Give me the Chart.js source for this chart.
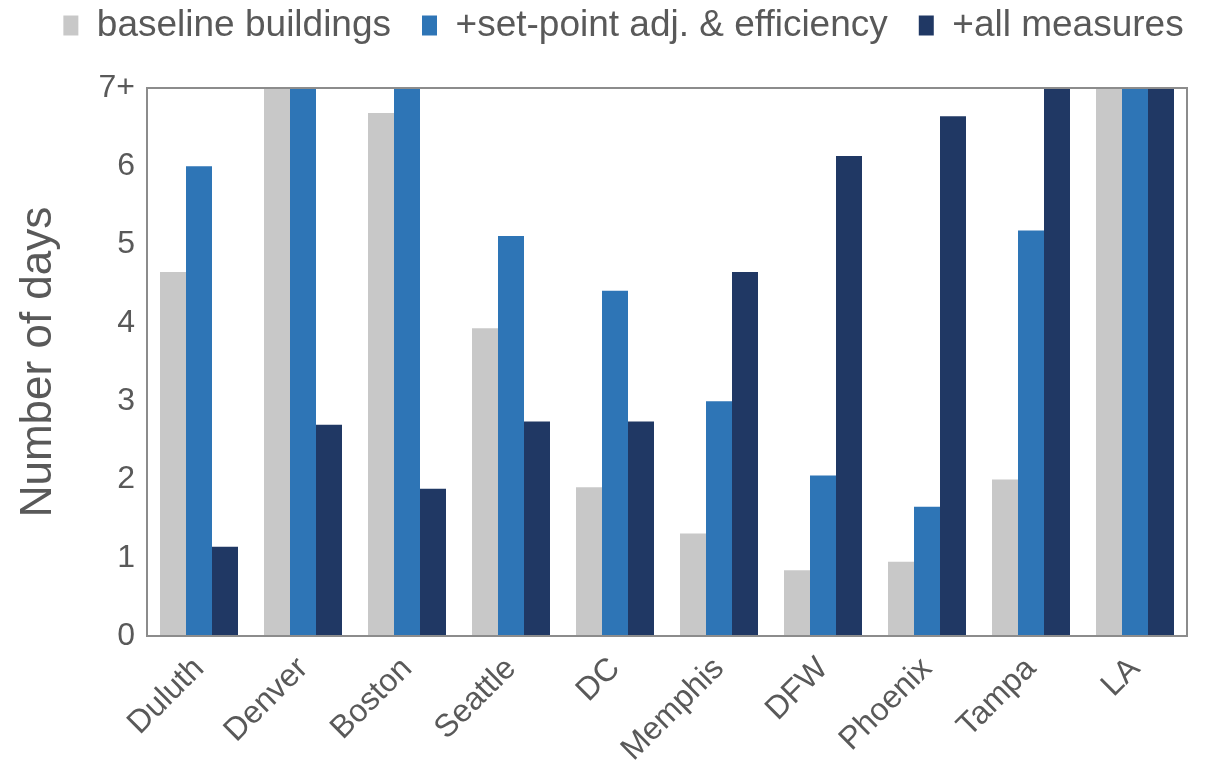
<!DOCTYPE html>
<html>
<head>
<meta charset="utf-8">
<script src="https://cdn.jsdelivr.net/npm/chart.js@4/dist/chart.umd.min.js"></script>
<style>
  html, body { margin: 0; padding: 0; background: #fff; }
  #wrap { width: 1221px; height: 767px; }
</style>
</head>
<body>
<div id="wrap"><canvas id="daysChart" width="1221" height="767"></canvas></div>
<script>
const cities = ["Duluth", "Denver", "Boston", "Seattle", "DC", "Memphis", "DFW", "Phoenix", "Tampa", "LA"];
const baseline = [4.65, 7, 6.68, 3.93, 1.9, 1.31, 0.84, 0.95, 2.0, 7];
const setPoint = [6.0, 7, 7, 5.11, 4.41, 3.0, 2.05, 1.65, 5.18, 7];
const allMeasures = [1.14, 2.7, 1.88, 2.74, 2.74, 4.65, 6.13, 6.64, 7, 7];
const yTicks = ["0", "1", "2", "3", "4", "5", "6", "7+"];

const textColor = "#595959";
const fontFamily = "'Liberation Sans', Arial, sans-serif";

// frame round the plot area, all four sides
const plotFrame = {
  id: "plotFrame",
  afterDatasetsDraw(chart) {
    const { ctx, chartArea: a } = chart;
    ctx.save();
    ctx.strokeStyle = "#8c8c8c";
    ctx.lineWidth = 2;
    ctx.strokeRect(a.left, a.top, a.right - a.left, a.bottom - a.top);
    ctx.restore();
  }
};

// fixed legend band, drawn a bit higher and to the right
const legendBand = {
  id: "legendBand",
  beforeInit(chart) {
    const lg = chart.legend;
    const fit = lg.fit;
    lg.fit = function () { fit.call(this); this.height = 88; };
    const draw = lg.draw;
    lg.draw = function () {
      this.ctx.save();
      this.ctx.translate(30, -24);
      draw.call(this);
      this.ctx.restore();
    };
  }
};

new Chart(document.getElementById("daysChart").getContext("2d"), {
  type: "bar",
  data: {
    labels: cities,
    datasets: [
      { label: "baseline buildings", data: baseline, backgroundColor: "#c8c8c8" },
      { label: "+set-point adj. & efficiency", data: setPoint, backgroundColor: "#2e75b6" },
      { label: "+all measures", data: allMeasures, backgroundColor: "#203864" }
    ]
  },
  options: {
    responsive: false,
    animation: false,
    layout: { padding: { left: 0, right: 34, top: 0, bottom: 0 } },
    datasets: { bar: { categoryPercentage: 0.75, barPercentage: 1.0 } },
    plugins: {
      tooltip: { enabled: false },
      legend: {
        position: "top",
        labels: {
          color: textColor,
          font: { family: fontFamily, size: 37 },
          boxWidth: 15,
          boxHeight: 20,
          padding: 31
        }
      }
    },
    scales: {
      x: {
        grid: { display: false, drawTicks: false },
        border: { display: false },
        ticks: {
          color: textColor,
          font: { family: fontFamily, size: 32 },
          minRotation: 45,
          maxRotation: 45,
          padding: 14
        },
        afterFit(axis) { axis.height = 131; }
      },
      y: {
        min: 0,
        max: 7,
        grid: { display: false, drawTicks: false },
        border: { display: false },
        ticks: {
          stepSize: 1,
          color: textColor,
          font: { family: fontFamily, size: 32 },
          padding: 12,
          callback: (v) => yTicks[v]
        },
        title: {
          display: true,
          text: "Number of days",
          color: textColor,
          font: { family: fontFamily, size: 44 },
          padding: { top: 12, bottom: 0 }
        },
        afterFit(axis) { axis.width = 147; }
      }
    }
  },
  plugins: [plotFrame, legendBand]
});
</script>
</body>
</html>
